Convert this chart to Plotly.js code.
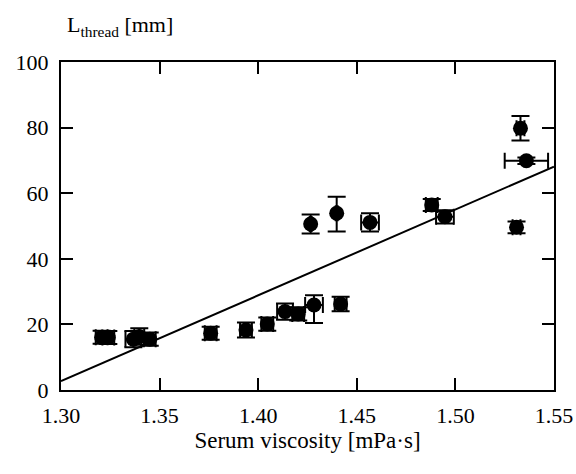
<!DOCTYPE html>
<html><head><meta charset="utf-8">
<script src="https://cdn.plot.ly/plotly-3.0.1.min.js"></script>
<style>html,body{margin:0;padding:0;background:#fff}#chart{width:576px;height:474px}</style>
</head><body><div id="chart"></div>
<script>
const viscosity = [1.3206,1.3240,1.3367,1.3397,1.3450,1.3759,1.3938,1.4046,1.4136,1.4203,1.4283,1.4418,1.4266,1.4398,1.4567,1.4880,1.4947,1.5310,1.5330,1.5360];
const threadLength = [16.1,16.0,15.5,16.3,15.5,17.3,18.3,20.1,23.9,23.2,25.9,26.2,50.6,53.9,51.1,56.4,52.8,49.6,79.8,69.9];
const viscErr = [0.003,0.003,0.004,0.0025,0.003,0.003,0.003,0.003,0.004,0.003,0.0045,0.003,0.0005,0.0005,0.0045,0.003,0.0045,0.002,0.002,0.011];
const lengthErrPlus = [2.0,2.0,2.5,2.5,2.0,2.0,2.3,2.0,2.5,2.0,3.0,2.2,2.9,5.0,2.8,1.8,2.0,1.8,3.7,1.0];
const lengthErrMinus = [2.0,2.0,2.5,2.5,2.0,2.0,2.3,2.0,2.5,2.0,5.5,2.2,2.9,5.6,2.8,1.8,2.0,1.8,3.7,1.0];
const fitX = [1.30,1.55];
const fitY = [2.7,68.1];
const xTicks = [1.30,1.35,1.40,1.45,1.50,1.55];
const xTickText = ['1.30','1.35','1.40','1.45','1.50','1.55'];
const yTicks = [0,20,40,60,80,100];

const fam = 'Liberation Serif, serif';
const tickFont = {family:fam, size:22, color:'#000'};
const titleFont = {family:fam, size:23, color:'#000'};
const yTitleFont = {family:fam, size:22, color:'#000'};

const traces = [
  {x:fitX, y:fitY, mode:'lines', line:{color:'#000', width:2}, hoverinfo:'skip', showlegend:false},
  {x:viscosity, y:threadLength, mode:'markers', type:'scatter', showlegend:false,
   marker:{color:'#000', size:15, symbol:'circle'},
   error_x:{type:'data', array:viscErr, visible:true, color:'#000', thickness:2, width:8},
   error_y:{type:'data', array:lengthErrPlus, arrayminus:lengthErrMinus, symmetric:false, visible:true, color:'#000', thickness:2, width:9}}
];

const layout = {
  width:576, height:474,
  margin:{l:61, r:22, t:62, b:84},
  paper_bgcolor:'#fff', plot_bgcolor:'#fff',
  font:tickFont,
  showlegend:false,
  xaxis:{range:[1.30,1.55], tickvals:xTicks, ticktext:xTickText, ticks:'inside', ticklen:12, tickwidth:2,
    tickcolor:'#000', showline:true, linecolor:'#000', linewidth:2, mirror:'allticks', showgrid:false, zeroline:false,
    tickfont:tickFont, ticklabelstandoff:5,
    title:{text:'Serum viscosity [mPa·s]', font:titleFont, standoff:3}},
  yaxis:{range:[0,100], tickvals:yTicks, ticks:'inside', ticklen:12, tickwidth:2,
    tickcolor:'#000', showline:true, linecolor:'#000', linewidth:2, mirror:'allticks', showgrid:false, zeroline:false,
    tickfont:tickFont, ticklabelstandoff:6},
  annotations:[{text:'L<sub>thread</sub> [mm]', xref:'paper', yref:'paper', x:0, y:1.0, yshift:20, xshift:4,
    xanchor:'left', yanchor:'bottom', showarrow:false, font:yTitleFont}]
};
Plotly.newPlot('chart', traces, layout, {displayModeBar:false, staticPlot:true});
</script></body></html>
